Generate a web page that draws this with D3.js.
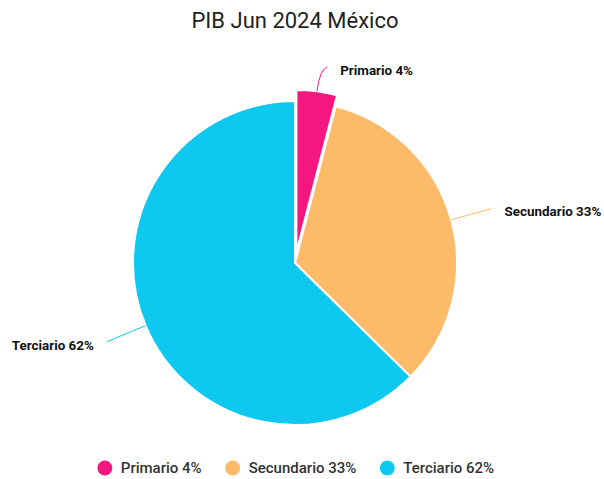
<!DOCTYPE html>
<html>
<head>
<meta charset="utf-8">
<script src="https://cdn.jsdelivr.net/npm/d3@7"></script>
<style>
  body { margin: 0; background: #fff; }
  svg { display: block; font-family: Roboto, sans-serif; }
</style>
</head>
<body>
<div id="chart"></div>
<script>
const title = 'PIB Jun 2024 México';
const sectors = ['Primario', 'Secundario', 'Terciario'];
const shares = [4, 33, 62];
const colors = ['#f5177f', '#fdbb69', '#0dc8ef'];

const WIDTH = 604;
const HEIGHT = 479;
const CX = 295;
const CY = 263;
const RADIUS = 162;
const EXPLODE = 11;

const svg = d3
  .select('#chart')
  .append('svg')
  .attr('width', WIDTH)
  .attr('height', HEIGHT);

svg
  .append('text')
  .attr('x', 295)
  .attr('y', 28)
  .attr('text-anchor', 'middle')
  .attr('font-size', 22)
  .attr('fill', '#222')
  .text(title);

const data = sectors.map((name, i) => ({ name, value: shares[i], color: colors[i] }));

const pie = d3.pie().sort(null).value((d) => d.value);
const arcs = pie(data);

const arc = d3.arc().innerRadius(0).outerRadius(RADIUS);

const midAngle = (d) => (d.startAngle + d.endAngle) / 2;
const offsetOf = (d, i) => {
  const dist = i === 0 ? EXPLODE : 0;
  const a = midAngle(d);
  return [Math.sin(a) * dist, -Math.cos(a) * dist];
};

const g = svg.append('g').attr('transform', `translate(${CX}, ${CY})`);

g.selectAll('path.slice')
  .data(arcs)
  .join('path')
  .attr('class', 'slice')
  .attr('transform', (d, i) => `translate(${offsetOf(d, i)})`)
  .attr('d', arc)
  .attr('fill', (d) => d.data.color)
  .attr('stroke', '#fff')
  .attr('stroke-width', 2)
  .attr('stroke-linejoin', 'round');

// connector lines + labels
const polar = (a, r) => [Math.sin(a) * r, -Math.cos(a) * r];

const labelInfo = arcs.map((d, i) => {
  const [ox, oy] = offsetOf(d, i);
  const a = midAngle(d);
  const start = polar(a, RADIUS);
  const ctrl = polar(a, RADIUS + 22);
  let end = polar(a, RADIUS + 42);
  const minY = -CY + 67 - oy;
  if (end[1] < minY) end = [end[0] + 5, minY];
  const right = Math.sin(a) >= 0;
  return {
    d,
    right,
    start: [start[0] + ox, start[1] + oy],
    ctrl: [ctrl[0] + ox, ctrl[1] + oy],
    end: [end[0] + ox, end[1] + oy],
  };
});

g.selectAll('path.connector')
  .data(labelInfo)
  .join('path')
  .attr('class', 'connector')
  .attr('fill', 'none')
  .attr('stroke', (l) => l.d.data.color)
  .attr('stroke-width', 1)
  .attr('d', (l) => {
    const p = d3.path();
    p.moveTo(l.start[0], l.start[1]);
    p.quadraticCurveTo(l.ctrl[0], l.ctrl[1], l.end[0], l.end[1]);
    return p.toString();
  });

g.selectAll('text.label')
  .data(labelInfo)
  .join('text')
  .attr('class', 'label')
  .attr('x', (l) => l.end[0] + (l.right ? 13 : -13))
  .attr('y', (l) => l.end[1] + 3)
  .attr('dy', '0.35em')
  .attr('text-anchor', (l) => (l.right ? 'start' : 'end'))
  .attr('font-size', 13.4)
  .attr('font-weight', 'bold')
  .attr('fill', '#111')
  .text((l) => `${l.d.data.name} ${l.d.data.value}%`);

// legend
const legend = svg.append('g').attr('transform', 'translate(0, 468)');
const items = legend
  .selectAll('g')
  .data(data)
  .join('g');

items
  .append('text')
  .attr('x', 16)
  .attr('dy', '0.35em')
  .attr('font-size', 15)
  .attr('font-weight', 500)
  .attr('fill', '#333')
  .text((d) => `${d.name} ${d.value}%`);

items
  .append('circle')
  .attr('r', 7.5)
  .attr('fill', (d) => d.color);

const widths = items.nodes().map((n) => 16 + n.querySelector('text').getComputedTextLength() + 7);
const gap = 24;
const total = d3.sum(widths) + gap * (widths.length - 1);
let x = 296 - total / 2 + 7;
items.attr('transform', (d, i) => {
  const t = `translate(${x}, 0)`;
  x += widths[i] + gap;
  return t;
});
</script>
</body>
</html>
